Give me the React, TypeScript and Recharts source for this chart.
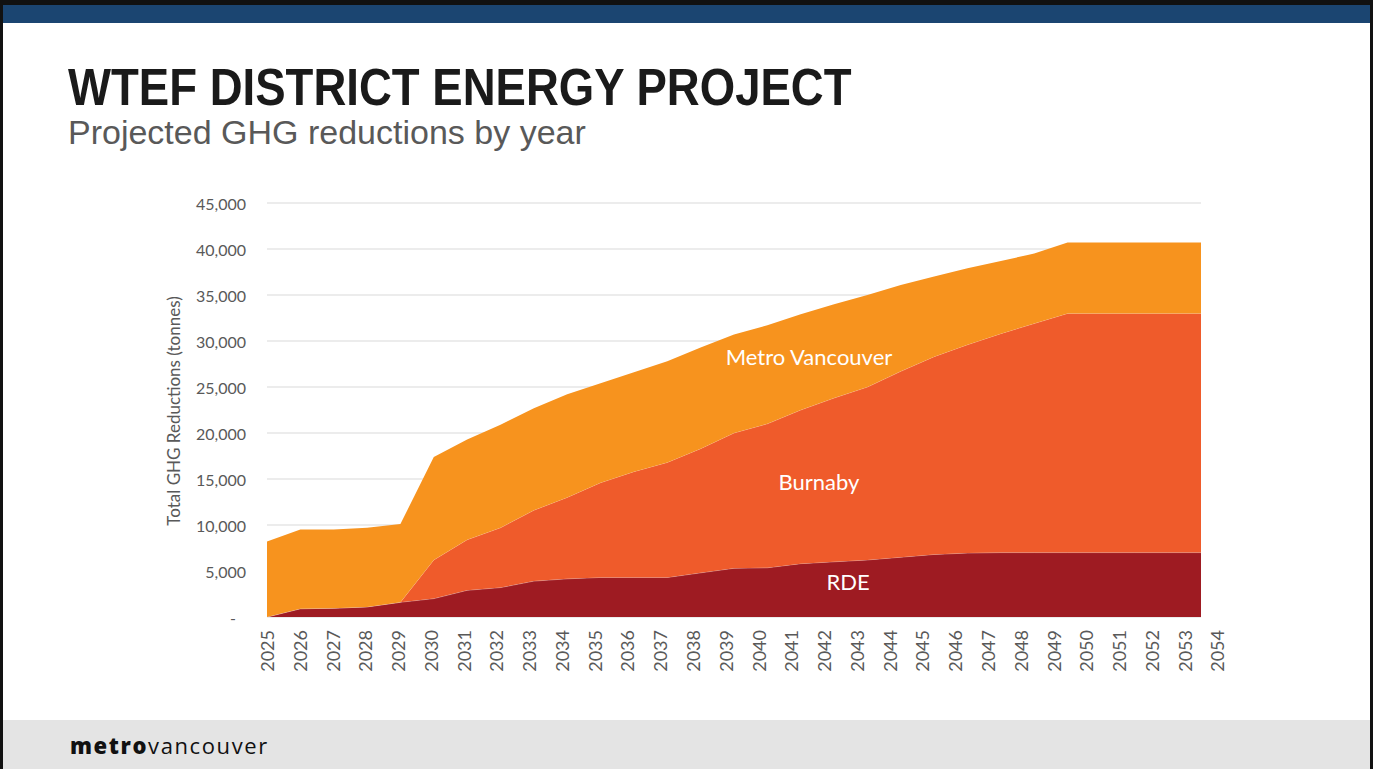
import React from "react"
import { AreaChart, Area, XAxis, YAxis, CartesianGrid } from "recharts"

// data years (plotted) and axis label years
const years = [
  2025, 2026, 2027, 2028, 2029, 2030, 2031, 2032, 2033, 2034,
  2035, 2036, 2037, 2038, 2039, 2040, 2041, 2042, 2043, 2044,
  2045, 2046, 2047, 2048, 2049, 2050, 2051, 2052, 2053,
]
const labelYears = [...years, 2054]

// tonnes per year, by source
const rde = [
  0, 900, 950, 1100, 1600, 2000, 2900, 3200, 3900, 4150,
  4300, 4300, 4300, 4800, 5300, 5350, 5800, 6000, 6200, 6500,
  6800, 6950, 7000, 7000, 7000, 7000, 7000, 7000, 7000,
]
const burnaby = [
  0, 0, 0, 0, 0, 4200, 5500, 6500, 7700, 8850,
  10300, 11500, 12500, 13500, 14700, 15650, 16700, 17800, 18800, 20200,
  21500, 22650, 23800, 24900, 26000, 26000, 26000, 26000, 26000,
]
const metroVancouver = [
  8200, 8600, 8550, 8600, 8500, 11200, 10900, 11200, 11100, 11200,
  10800, 10800, 11000, 11000, 10700, 10700, 10400, 10200, 10000, 9400,
  8700, 8300, 7900, 7600, 7700, 7700, 7700, 7700, 7700,
]
const yTicks = [0, 5000, 10000, 15000, 20000, 25000, 30000, 35000, 40000, 45000]

const data = years.map((year, i) => ({
  year,
  rde: rde[i],
  burnaby: burnaby[i],
  mv: metroVancouver[i],
}))

const tickFont = "Lato, 'Open Sans', sans-serif"

function YTick(props: any) {
  const { y, payload } = props
  const v = payload.value as number
  return (
    <text
      x={v === 0 ? 236 : 246}
      y={y}
      textAnchor="end"
      dominantBaseline="central"
      fill="#595959"
      fontSize={16}
      fontFamily={tickFont}
    >
      {v === 0 ? "-" : v.toLocaleString("en-US")}
    </text>
  )
}

function XTick(props: any) {
  const { x, payload } = props
  return (
    <text
      transform={`translate(${x},630) rotate(-90)`}
      textAnchor="end"
      dominantBaseline="central"
      fill="#595959"
      fontSize={18}
      fontFamily={tickFont}
    >
      {payload.value}
    </text>
  )
}

const inChartLabel: React.CSSProperties = {
  position: "absolute",
  color: "#fff",
  fontFamily: tickFont,
  fontSize: 22,
  whiteSpace: "nowrap",
  transform: "translate(-50%, -50%)",
}

export default function App() {
  return (
    <div
      style={{
        position: "absolute",
        left: 0,
        top: 0,
        width: 1375,
        height: 769,
        background: "#fff",
        overflow: "hidden",
      }}
    >
      {/* slide frame */}
      <div style={{ position: "absolute", left: 0, top: 0, width: 1373, height: 5, background: "#111" }} />
      <div style={{ position: "absolute", left: 0, top: 0, width: 3, height: 769, background: "#111" }} />
      <div style={{ position: "absolute", left: 1370, top: 0, width: 3, height: 769, background: "#111" }} />
      <div style={{ position: "absolute", left: 3, top: 5, width: 1367, height: 18, background: "#1b4571" }} />
      <div style={{ position: "absolute", left: 3, top: 720, width: 1367, height: 49, background: "#e4e4e4" }} />

      <div
        style={{
          position: "absolute",
          left: 68,
          top: 60,
          fontFamily: "'Liberation Sans', Arial, sans-serif",
          fontWeight: 700,
          fontSize: 51,
          color: "#1a1a1a",
          whiteSpace: "nowrap",
          transform: "scaleX(0.893)",
          transformOrigin: "left top",
          lineHeight: 1.1,
        }}
      >
        WTEF DISTRICT ENERGY PROJECT
      </div>
      <div
        style={{
          position: "absolute",
          left: 68,
          top: 114,
          fontFamily: "'Liberation Sans', Arial, sans-serif",
          fontSize: 34,
          color: "#595959",
          whiteSpace: "nowrap",
          lineHeight: 1.1,
        }}
      >
        Projected GHG reductions by year
      </div>

      <div style={{ position: "absolute", left: 0, top: 0 }}>
        <AreaChart
          width={1375}
          height={769}
          data={data}
          margin={{ top: 203, right: 174, left: 167, bottom: 92 }}
        >
          <CartesianGrid vertical={false} stroke="#d9d9d9" />
          <XAxis dataKey="year" hide padding={{ left: 0, right: 0 }} />
          <XAxis
            xAxisId="lab"
            dataKey="year"
            type="number"
            domain={[2025, 2053.5]}
            ticks={labelYears}
            allowDataOverflow
            interval={0}
            axisLine={false}
            tickLine={false}
            height={60}
            tick={<XTick />}
          />
          <YAxis
            width={100}
            domain={[0, 45000]}
            ticks={yTicks}
            axisLine={false}
            tickLine={false}
            tick={<YTick />}
          />
          <Area
            type="linear"
            dataKey="rde"
            stackId="1"
            fill="#9e1b22"
            fillOpacity={1}
            stroke="rgba(255,255,255,0.35)"
            strokeWidth={1}
            isAnimationActive={false}
          />
          <Area
            type="linear"
            dataKey="burnaby"
            stackId="1"
            fill="#ef5b2b"
            fillOpacity={1}
            stroke="rgba(255,255,255,0.25)"
            strokeWidth={1}
            isAnimationActive={false}
          />
          <Area
            type="linear"
            dataKey="mv"
            stackId="1"
            fill="#f7931e"
            fillOpacity={1}
            stroke="none"
            isAnimationActive={false}
          />
        </AreaChart>
      </div>

      <div style={{ ...inChartLabel, left: 809, top: 356 }}>Metro Vancouver</div>
      <div style={{ ...inChartLabel, left: 819, top: 481 }}>Burnaby</div>
      <div style={{ ...inChartLabel, left: 848, top: 581 }}>RDE</div>

      <div
        style={{
          position: "absolute",
          left: 173,
          top: 411,
          transform: "translate(-50%, -50%) rotate(-90deg)",
          fontFamily: tickFont,
          fontSize: 17,
          color: "#595959",
          whiteSpace: "nowrap",
        }}
      >
        Total GHG Reductions (tonnes)
      </div>

      <div
        style={{
          position: "absolute",
          left: 70,
          top: 734,
          fontFamily: "'Open Sans', Lato, sans-serif",
          fontSize: 22,
          letterSpacing: 1.6,
          color: "#111",
          whiteSpace: "nowrap",
          lineHeight: 1,
        }}
      >
        <span style={{ fontWeight: 800 }}>metro</span>
        <span>vancouver</span>
      </div>
    </div>
  )
}
